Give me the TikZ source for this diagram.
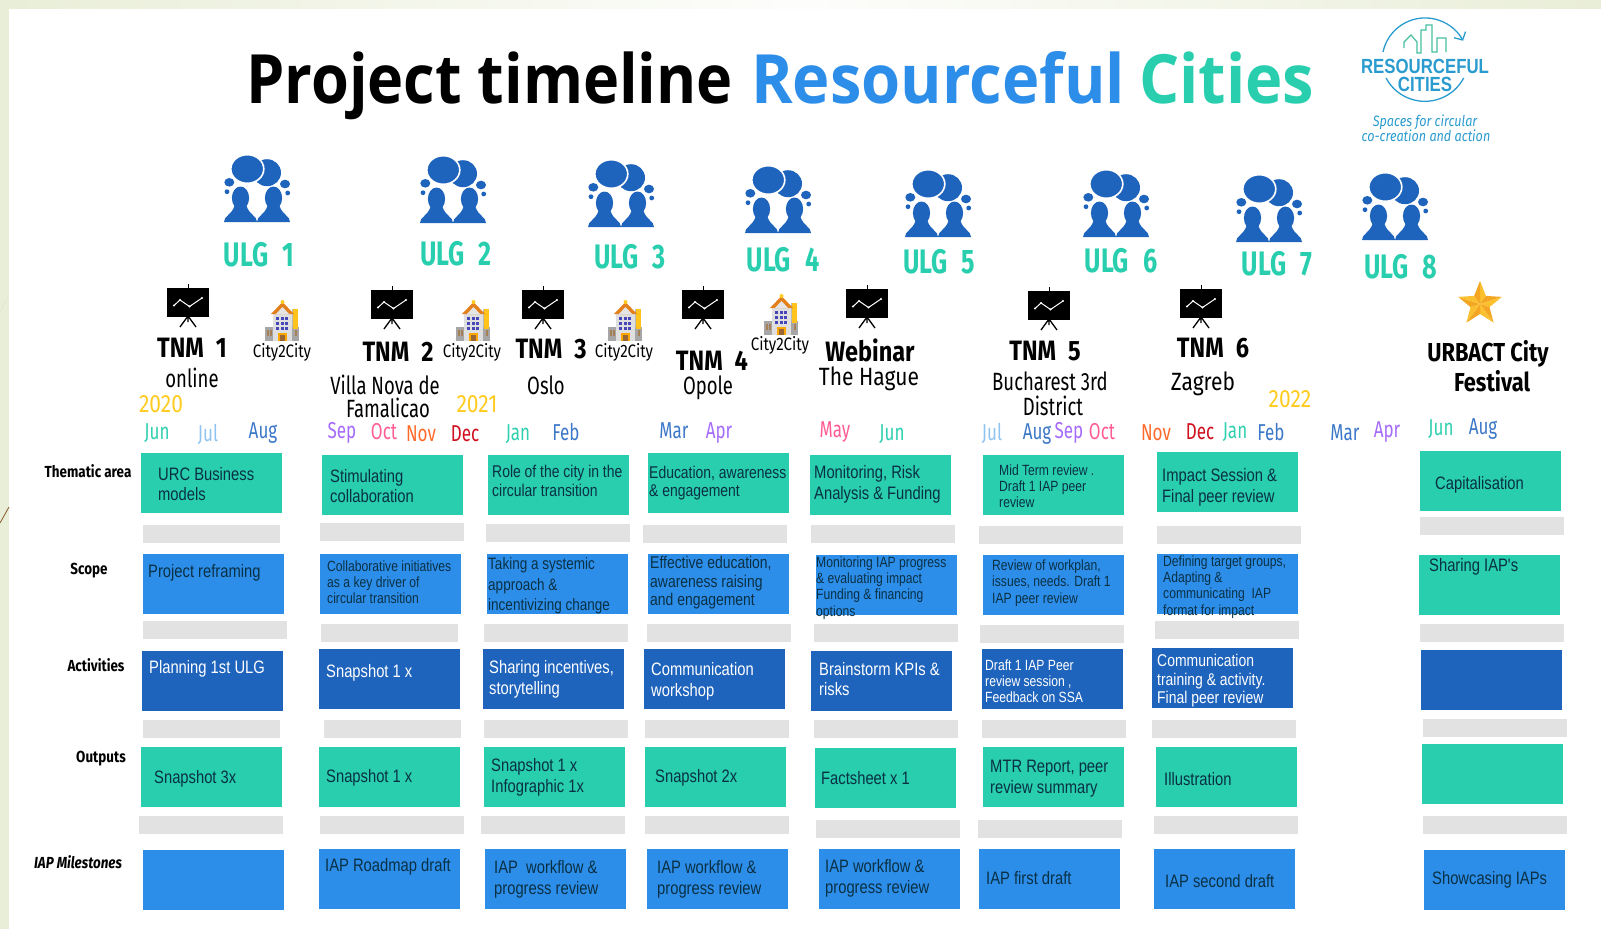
\documentclass[tikz,border=0pt]{standalone}
\usetikzlibrary{arrows.meta}
\usepackage{fontspec}
\setmainfont{Liberation Sans}
\newfontfamily\headfont[FakeStretch=0.74]{Fira Sans}
\newfontfamily\wideheadfont[FakeStretch=0.84]{Fira Sans}
\newfontfamily\cellfont[FakeStretch=0.82]{Liberation Sans}
\newfontfamily\titlefont[FakeStretch=0.93]{Open Sans}
\newfontfamily\blacktitlefont[FakeStretch=0.9]{Open Sans}

\definecolor{rcgreen}{HTML}{28CEAE}
\definecolor{rcblue}{HTML}{2D8EEA}
\definecolor{rcnavy}{HTML}{1E63BC}
\definecolor{rcgrey}{HTML}{E2E2E2}
\definecolor{rcink}{HTML}{0A3043}
\definecolor{rcpage}{HTML}{E9EED8}
\definecolor{rcgold}{HTML}{FFCB1F}
\definecolor{starlight}{HTML}{FBC02D}
\definecolor{stardark}{HTML}{F4A622}
\definecolor{mjun}{HTML}{2FCFB0}
\definecolor{mjul}{HTML}{8FC3F0}
\definecolor{maug}{HTML}{3C78C8}
\definecolor{msep}{HTML}{A56BFA}
\definecolor{moct}{HTML}{FF5C93}
\definecolor{mnov}{HTML}{FF6A2B}
\definecolor{mdec}{HTML}{D0101F}
\definecolor{logoblue}{HTML}{2A9BCF}
\definecolor{logogreen}{HTML}{45BFA0}

\tikzset{
  greenbox/.style={fill=rcgreen,minimum width=141pt,minimum height=60pt,inner sep=0pt,anchor=north west},
  bluebox/.style={greenbox,fill=rcblue},
  navybox/.style={greenbox,fill=rcnavy},
  greybar/.style={greenbox,fill=rcgrey,minimum width=144pt,minimum height=18pt},
  shortbar/.style={greybar,minimum width=137pt},
  bigcell/.style={anchor=west,align=left,inner sep=0pt,text=rcink,font=\cellfont\fontsize{18}{20.7}\selectfont},
  midcell/.style={bigcell,font=\cellfont\fontsize{17}{18.5}\selectfont},
  tallcell/.style={bigcell,font=\cellfont\fontsize{16.5}{20.7}\selectfont},
  smallcell/.style={bigcell,font=\cellfont\fontsize{14.8}{16.2}\selectfont},
  whitetext/.style={text=white},
  rowhead/.style={inner sep=0pt,font=\wideheadfont\bfseries\fontsize{16}{18}\selectfont},
  ulglabel/.style={inner sep=0pt,text=rcgreen,font=\headfont\bfseries\fontsize{34}{36}\selectfont},
  tnmlabel/.style={inner sep=0pt,font=\wideheadfont\bfseries\fontsize{28}{30}\selectfont},
  urbactlabel/.style={inner sep=0pt,font=\wideheadfont\bfseries\fontsize{26}{28}\selectfont},
  placelabel/.style={inner sep=0pt,font=\headfont\fontsize{25}{25}\selectfont},
  wideplace/.style={inner sep=0pt,font=\wideheadfont\fontsize{25}{25}\selectfont},
  citytag/.style={inner sep=0pt,font=\wideheadfont\fontsize{18}{20}\selectfont},
  yearlabel/.style={inner sep=0pt,text=rcgold,font=\wideheadfont\fontsize{25}{27}\selectfont},
  monthlabel/.style={inner sep=0pt,font=\headfont\fontsize{23}{25}\selectfont},
  titletext/.style={anchor=base west,inner sep=0pt,font=\titlefont\bfseries\fontsize{68}{72}\selectfont},
  logoname/.style={inner sep=0pt,text=logoblue,font=\cellfont\bfseries\fontsize{20.5}{22}\selectfont},
  logotag/.style={inner sep=0pt,text=logoblue,font=\wideheadfont\itshape\fontsize{15}{16}\selectfont},
  ulgicon/.pic={
    \fill[rcnavy] (43,17.7) ellipse (14 and 13.5);
    \fill[rcnavy,draw=white,line width=1.6pt] (23.3,14) ellipse (16.5 and 14.3);
    \fill[rcnavy] (5.3,27.3) ellipse (5 and 4.3) (61,29) ellipse (5 and 4.3)
      (3,36.7) circle (2.4) (63.7,38) circle (2.4);
    \foreach \cx in {16.5,49.5}{
      \fill[rcnavy] (\cx,43) ellipse (8.6 and 11.5);
      \fill[rcnavy] (\cx-16.5,67) .. controls (\cx-16.5,61) and (\cx-9,60) .. (\cx-6,51)
        -- (\cx+6,51) .. controls (\cx+9,60) and (\cx+16.5,61) .. (\cx+16.5,67) -- cycle;
    }
  },
  tnmicon/.pic={
    \fill[black] (0,0) rectangle (42,28.5);
    \draw[black,line width=1pt] (21,-4) -- (21,0);
    \draw[black,line width=1.3pt] (21,28) -- (13,39) (21,28) -- (29,39) (21,28) -- (21,34);
    \draw[white,line width=1pt] (7,17.5) -- (13,12) -- (22.5,18.5) -- (35,10);
    \foreach \px/\py in {7/17.5,13/12,22.5/18.5,35/10} \fill[white] (\px,\py) circle (1.1);
  },
  cityicon/.pic={
    \fill[gray!70!white] (0,28) rectangle (34,42);
    \fill[gray!25!white] (8,14) rectangle (27,42);
    \fill[gray!55!white] (27,10) rectangle (30,28);
    \fill[rcgold!90!orange] (28,10) rectangle (33,30);
    \fill[orange!55!brown] (6,15) -- (17.5,3) -- (29,15) -- cycle;
    \fill[gray!20!white] (11,15) -- (17.5,8) -- (24,15) -- cycle;
    \fill[rcgold] (17.5,3) circle (2);
    \foreach \wy in {18,23,28} \foreach \wx in {11,15.5,20}
      \fill[blue!45!gray] (\wx,\wy) rectangle (\wx+3,\wy+2.5);
    \foreach \wx in {2,5,29.5} \fill[gray!35!brown] (\wx,31) rectangle (\wx+2,37);
    \fill[orange!70!yellow] (13,34) rectangle (22,42);
    \fill[brown!80!black] (15,36) rectangle (20,42);
  }
}

\begin{document}
\begin{tikzpicture}[x=1pt,y=-1pt]
  \useasboundingbox (0,0) rectangle (1601,929);
  % page behind the slide
  \fill[rcpage] (0,0) rectangle (9,929);
  \shade[left color=rcpage,right color=rcpage,middle color=white!92!rcpage] (0,0) rectangle (1601,8);
  \draw[brown!70!black,line width=.8pt] (0,523) -- (9,507);
  \draw[gray!60,line width=.4pt,dotted] (0,312) -- (9,295);

  % title
  \node[titletext,font=\blacktitlefont\bfseries\fontsize{68}{72}\selectfont] (titleA) at (246,103) {Project timeline};
  \node[titletext,text=rcblue] (titleB) at (751,103) {Resourceful};
  \node[titletext,text=rcgreen] (titleC) at (1139,103) {Cities};

  % logo
  \draw[logoblue,line width=1.3pt,-{Straight Barb[length=6pt,width=13pt]}] (1383,52) arc (-168:-28:43);
  \draw[logoblue,line width=1.3pt] (1386,78) arc (152:28:44);
  \draw[logogreen,line width=1.2pt] (1404,48) -- (1404,42) -- (1411,35) -- (1417,42) -- (1417,53) -- (1421,53)
    -- (1421,30) -- (1426,30) -- (1426,25) -- (1432,25) -- (1432,52) -- (1437,52) -- (1437,38) -- (1446,38) -- (1446,52);
  \node[logoname] (logoA) at (1425,66) {RESOURCEFUL};
  \node[logoname] (logoB) at (1425,84) {CITIES};
  \node[logotag] (logoC) at (1425,122) {Spaces for circular};
  \node[logotag] (logoD) at (1426,136) {co-creation and action};

  % ULG icons and labels
  \foreach \ix/\iy/\lx/\ly/\n in {224/155/259/255/1,420/156/456/254/2,588/160/630/257/3,745/166/783/260/4,
    905/170/939/262/5,1083/170/1121/261/6,1236/175/1277/264/7,1362/173/1401/267/8}{
    \pic at (\ix,\iy) {ulgicon};
    \node[ulglabel] (ulg\n) at (\lx,\ly) {ULG\hspace{14pt}\n};
  }

  % TNM icons, city icons, star
  \foreach \ix/\iy in {167/288,371/290,522/290,682/290,846/289,1028/291,1180/289}
    \pic at (\ix,\iy) {tnmicon};
  \foreach \ix/\iy in {265/299,456/299,608/299,764/293}
    \pic at (\ix,\iy) {cityicon};
  \begin{scope}[shift={(1480,304)}]
    \foreach \a in {-90,-18,54,126,198}{
      \fill[starlight] (0,0) -- (\a:23) -- (\a+36:10) -- cycle;
      \fill[stardark] (0,0) -- (\a+36:10) -- (\a+72:23) -- cycle;
    }
  \end{scope}

  % meeting names
  \node[tnmlabel] (tnmA) at (192,348) {TNM\hspace{12pt}1};
  \node[tnmlabel] (tnmB) at (398,352) {TNM\hspace{12pt}2};
  \node[tnmlabel] (tnmC) at (551,349) {TNM\hspace{12pt}3};
  \node[tnmlabel] (tnmD) at (712,361) {TNM\hspace{12pt}4};
  \node[tnmlabel] (webinar) at (870,350) {Webinar};
  \node[tnmlabel] (tnmE) at (1045,351) {TNM\hspace{12pt}5};
  \node[tnmlabel] (tnmF) at (1213,348) {TNM\hspace{12pt}6};
  \node[urbactlabel] (urbactA) at (1488,354) {URBACT City};
  \node[urbactlabel] (urbactB) at (1492,381) {Festival};

  \node[placelabel] (plA) at (192,378) {online};
  \node[placelabel] (plB) at (385,385) {Villa Nova de};
  \node[placelabel] (plC) at (388,408) {Famalicao};
  \node[placelabel] (plD) at (546,385) {Oslo};
  \node[placelabel] (plE) at (708,388) {Opole};
  \node[wideplace] (plF) at (869,379) {The Hague};
  \node[placelabel] (plG) at (1050,381) {Bucharest 3rd};
  \node[placelabel] (plH) at (1053,406) {District};
  \node[wideplace] (plI) at (1203,384) {Zagreb};

  \node[citytag] (ccA) at (282,352) {City2City};
  \node[citytag] (ccB) at (472,352) {City2City};
  \node[citytag] (ccC) at (624,352) {City2City};
  \node[citytag] (ccD) at (780,345) {City2City};

  \node[yearlabel] (yrA) at (161,404) {2020};
  \node[yearlabel] (yrB) at (477,404) {2021};
  \node[yearlabel] (yrC) at (1290,399) {2022};

  % months
  \foreach \mx/\my/\mc/\mt [count=\i] in {157/433/mjun/Jun,208/434/mjul/Jul,263/433/maug/Aug,342/433/msep/Sep,
    384/432/moct/Oct,421/434/mnov/Nov,465/434/mdec/Dec,518/434/mjun/Jan,566/432/maug/Feb,674/431/maug/Mar,
    719/433/msep/Apr,835/432/moct/May,892/434/mjun/Jun,992/433/mjul/Jul,1037/434/maug/Aug,1069/433/msep/Sep,
    1102/432/moct/Oct,1156/433/mnov/Nov,1200/432/mdec/Dec,1235/432/mjun/Jan,1271/432/maug/Feb,1345/433/maug/Mar,
    1387/432/msep/Apr,1441/429/mjun/Jun,1483/429/maug/Aug}
    \node[monthlabel,text=\mc] (mon\i) at (\mx,\my) {\mt};

  % row headings
  \node[rowhead] (headA) at (88,471) {Thematic area};
  \node[rowhead] (headB) at (89,571) {Scope};
  \node[rowhead] (headC) at (96,665) {Activities};
  \node[rowhead] (headD) at (101,759) {Outputs};
  \node[rowhead] (headE) at (78,862) {\itshape IAP Milestones};

  % boxes
  \foreach \bx/\by [count=\i] in {141/453,322/455,488/455,648/453,810/455,983/455,1157/452,1420/451}
    \node[greenbox] (them\i) at (\bx,\by) {};
  \foreach \bx/\by [count=\i] in {143/554,320/554,487/554,648/554,816/555,983/555,1157/554}
    \node[bluebox] (scop\i) at (\bx,\by) {};
  \node[greenbox] (scop8) at (1419,555) {};
  \foreach \bx/\by [count=\i] in {142/651,319/649,483/649,644/649,811/651,982/649,1152/648,1421/650}
    \node[navybox] (acti\i) at (\bx,\by) {};
  \foreach \bx/\by [count=\i] in {141/747,319/747,484/747,645/747,815/748,983/747,1156/747,1422/744}
    \node[greenbox] (outp\i) at (\bx,\by) {};
  \foreach \bx/\by [count=\i] in {143/850,319/849,485/849,647/849,819/849,979/849,1154/849,1424/850}
    \node[bluebox] (mile\i) at (\bx,\by) {};

  % grey bars
  \foreach \bx/\by [count=\i] in {320/523,486/524,643/525,811/525,979/526,1157/526,1420/517,
    143/621,484/624,647/624,814/624,980/625,1155/621,1420/624,
    484/720,645/720,814/720,982/720,1152/720,1423/719,
    139/816,320/816,481/816,645/816,816/820,978/820,1154/816,1423/816}
    \node[greybar] (bar\i) at (\bx,\by) {};
  \foreach \bx/\by [count=\i] in {143/525,321/624,143/720,324/720}
    \node[shortbar] (sbar\i) at (\bx,\by) {};

  % box texts
  \node[bigcell] (tA) at (158,484) {URC Business\\models};
  \node[bigcell] (tB) at (330,486) {Stimulating\\collaboration};
  \node[midcell] (tC) at (492,481) {Role of the city in the\\circular transition};
  \node[midcell] (tD) at (649,483) {Education, awareness\\\& engagement};
  \node[bigcell] (tE) at (814,484) {Monitoring, Risk\\Analysis \& Funding};
  \node[smallcell] (tF) at (999,486) {Mid Term review .\\Draft 1 IAP peer\\review};
  \node[bigcell] (tG) at (1162,487) {Impact Session \&\\Final peer review};
  \node[bigcell] (tH) at (1435,485) {Capitalisation};

  \node[bigcell] (sA) at (148,573) {Project reframing};
  \node[smallcell] (sB) at (327,582) {Collaborative initiatives\\as a key driver of\\circular transition};
  \node[tallcell] (sC) at (488,586) {Taking a systemic\\approach \&\\incentivizing change};
  \node[midcell] (sD) at (650,583) {Effective education,\\awareness raising\\and engagement};
  \node[smallcell] (sE) at (816,588) {Monitoring IAP progress\\\& evaluating impact\\Funding \& financing\\options};
  \node[smallcell] (sF) at (992,583) {Review of workplan,\\issues, needs. Draft 1\\IAP peer review};
  \node[smallcell] (sG) at (1163,587) {Defining target groups,\\Adapting \&\\communicating~~IAP\\format for impact};
  \node[bigcell] (sH) at (1429,567) {Sharing IAP's};

  \node[bigcell,whitetext] (aA) at (149,669) {Planning 1st ULG};
  \node[bigcell,whitetext] (aB) at (326,673) {Snapshot 1 x};
  \node[bigcell,whitetext] (aC) at (489,679) {Sharing incentives,\\storytelling};
  \node[bigcell,whitetext] (aD) at (651,681) {Communication\\workshop};
  \node[bigcell,whitetext] (aE) at (819,679) {Brainstorm KPIs \&\\risks};
  \node[smallcell,whitetext] (aF) at (985,681) {Draft 1 IAP Peer\\review session ,\\Feedback on SSA};
  \node[midcell,whitetext] (aG) at (1157,681) {Communication\\training \& activity.\\Final peer review};

  \node[bigcell] (oA) at (154,779) {Snapshot 3x};
  \node[bigcell] (oB) at (326,778) {Snapshot 1 x};
  \node[bigcell] (oC) at (491,777) {Snapshot 1 x\\Infographic 1x};
  \node[bigcell] (oD) at (655,778) {Snapshot 2x};
  \node[bigcell] (oE) at (821,778) {Factsheet x 1};
  \node[bigcell] (oF) at (990,779) {MTR Report, peer\\review summary};
  \node[bigcell] (oG) at (1164,779) {Illustration};

  \node[bigcell] (iB) at (325,867) {IAP Roadmap draft};
  \node[bigcell] (iC) at (494,879) {IAP~~workflow \&\\progress review};
  \node[bigcell] (iD) at (657,879) {IAP workflow \&\\progress review};
  \node[bigcell] (iE) at (825,878) {IAP workflow \&\\progress review};
  \node[bigcell] (iF) at (986,878) {IAP first draft};
  \node[bigcell] (iG) at (1165,881) {IAP second draft};
  \node[bigcell] (iH) at (1432,880) {Showcasing IAPs};
\end{tikzpicture}
\end{document}
